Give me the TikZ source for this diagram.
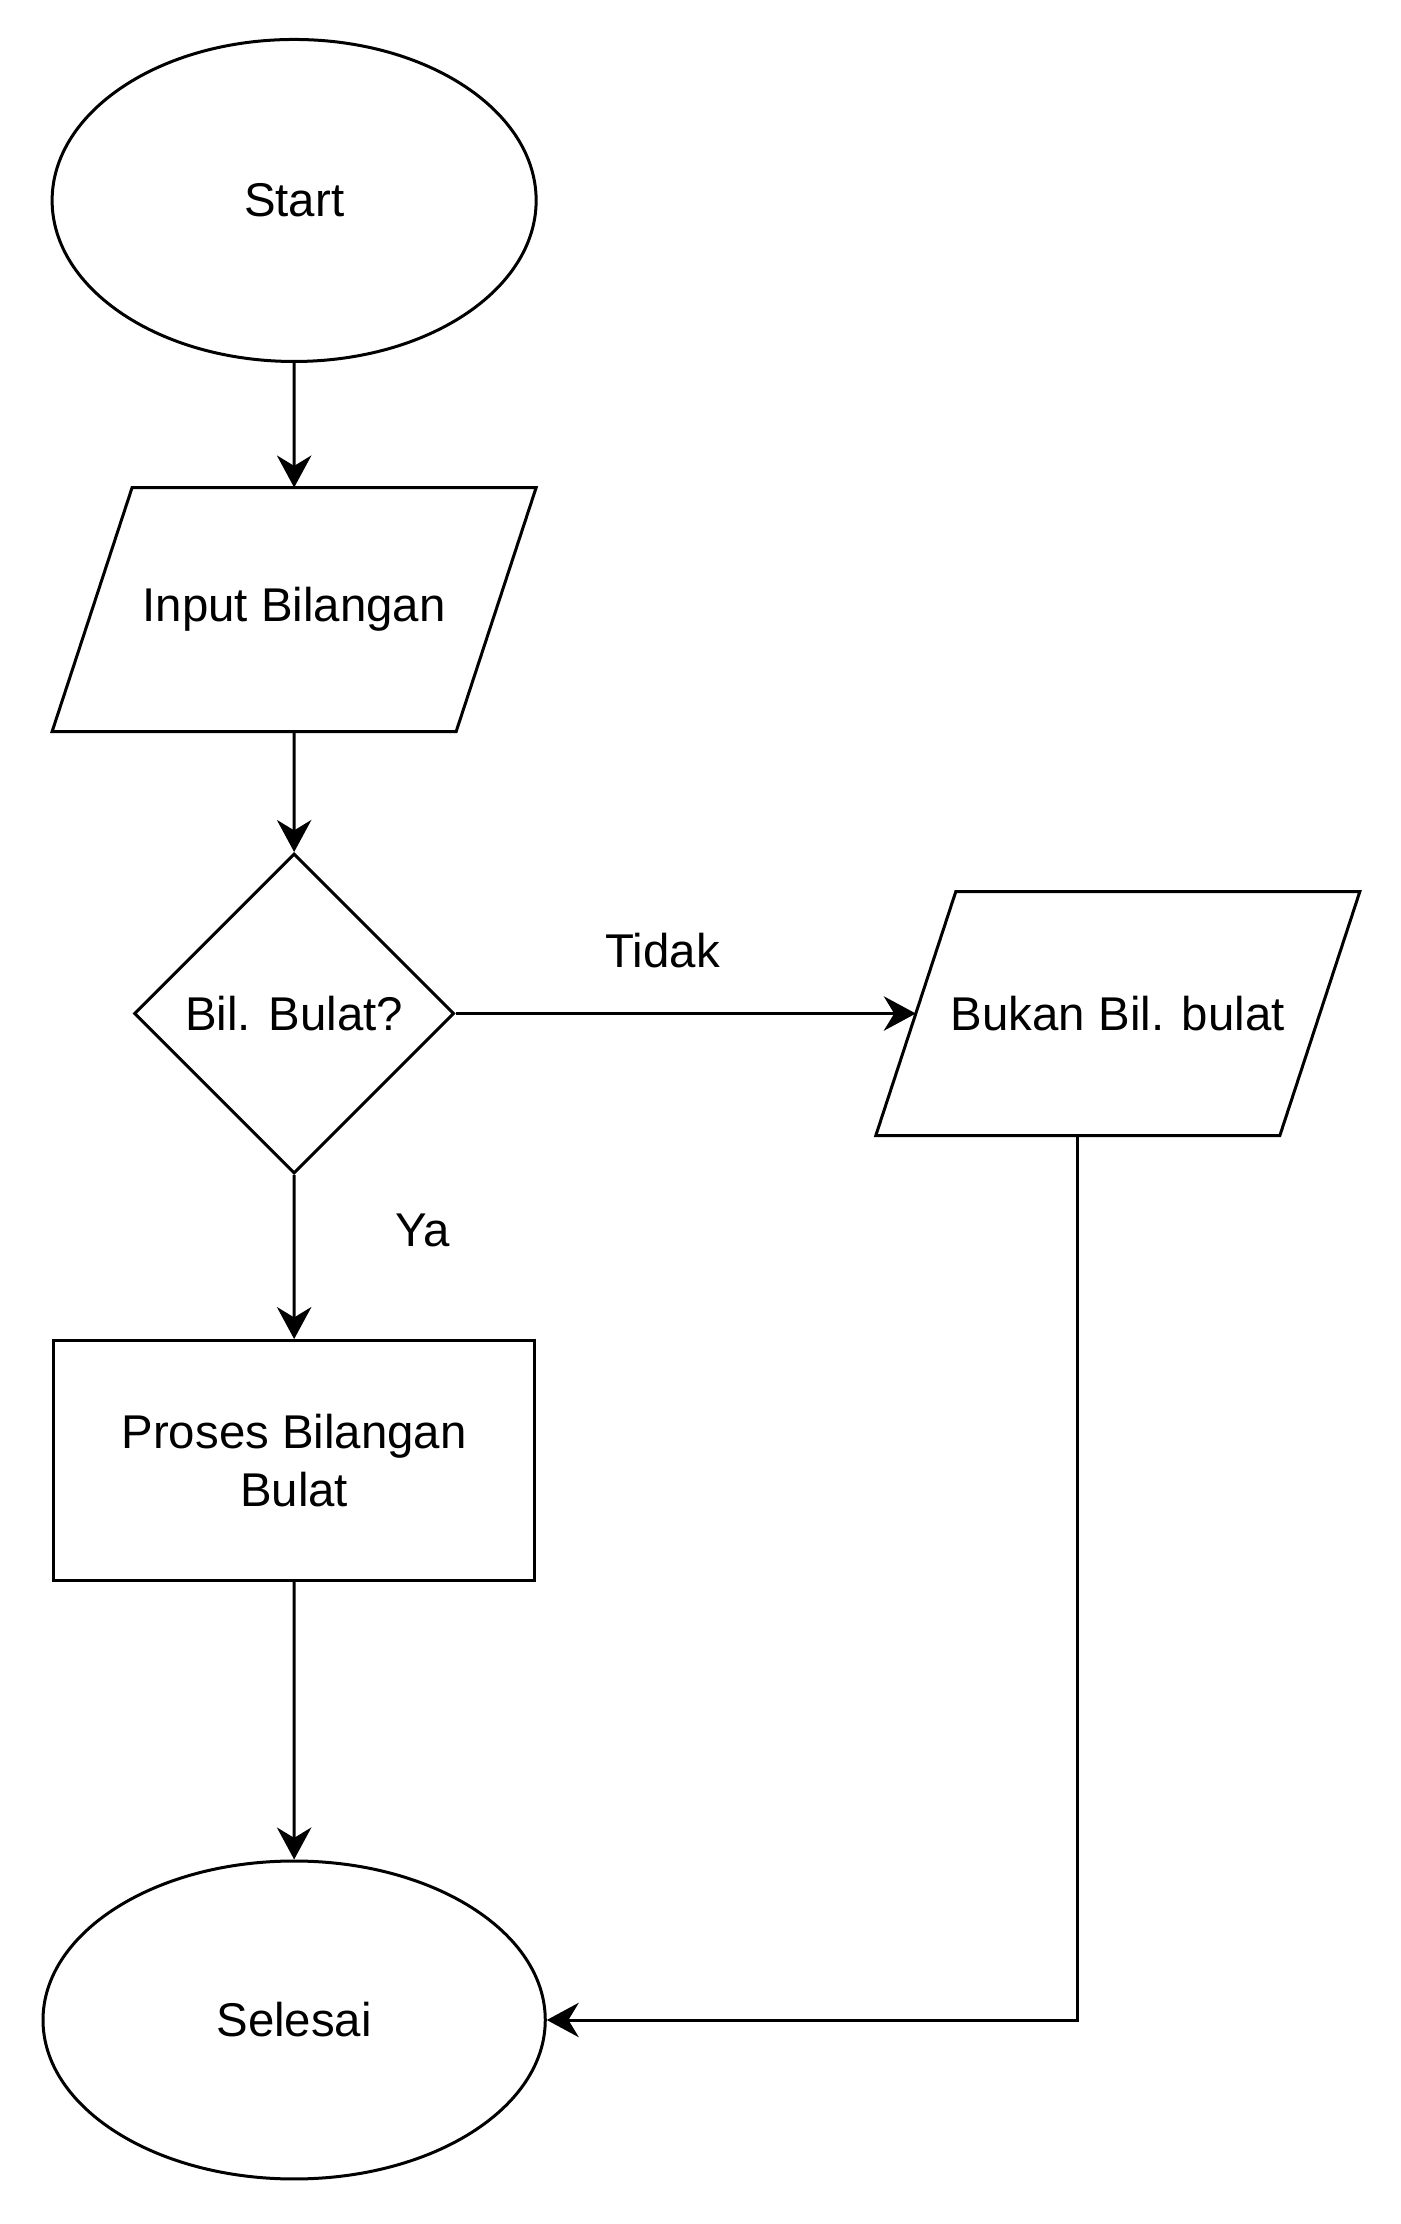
\documentclass[tikz,border=0pt]{standalone}
\usepackage{fontspec}
\setmainfont{Liberation Sans}
\usetikzlibrary{arrows.meta,shapes.geometric}

\begin{document}
\begin{tikzpicture}[x=0.2531pt, y=-0.2531pt, line width=0.75pt,
  every node/.style={scale=1.0125, font=\fontsize{11.7}{14.4}\selectfont},
  terminal/.style={draw, ellipse, inner sep=0pt},
  inout/.style={rectangle, minimum width=99pt, minimum height=59.5pt, inner sep=0pt},
  decision/.style={draw, diamond, aspect=1, minimum width=79pt, minimum height=79pt, inner sep=0pt},
  process/.style={draw, rectangle, minimum width=118.75pt, minimum height=59.25pt, align=center, inner sep=0pt},
  flow/.style={-{Stealth[length=8pt, width=8.6pt, inset=2.6pt]}}]
  \useasboundingbox (0,0) rectangle (1382.7,2196.5);

  % Nodes
  \node (start) at (290.5,198) [terminal, minimum width=119.5pt, minimum height=79.5pt] {Start};
  \node (input) at (290.5,602) [inout] {Input Bilangan};
  \node (cek) at (290.5,1001) [decision] {Bil. Bulat?};
  \node (bukan) at (1104,1001) [inout] {Bukan Bil. bulat};
  \node (proses) at (290.5,1442.5) [process] {Proses Bilangan\\Bulat};
  \node (selesai) at (290.5,1995) [terminal, minimum width=124pt, minimum height=78.5pt] {Selesai};

  % Parallelograms
  \foreach \n in {input,bukan}
    \draw ([xshift=10pt]\n.north west) -- ([xshift=10pt]\n.north east)
      -- ([xshift=-10pt]\n.south east) -- ([xshift=-10pt]\n.south west) -- cycle;

  % Connectors
  \draw[flow] (start) -- (input);
  \draw[flow] (input) -- (cek);
  \draw[flow] (cek) -- (bukan) node[pos=0.45, yshift=15.5pt] (tidak) {Tidak};
  \draw[flow] (cek) -- (proses) node[pos=0.34, xshift=31.75pt] (ya) {Ya};
  \draw[flow] (proses) -- (selesai);
  \draw[flow] ([xshift=-10pt]bukan.south) |- (selesai);

\end{tikzpicture}
\end{document}
